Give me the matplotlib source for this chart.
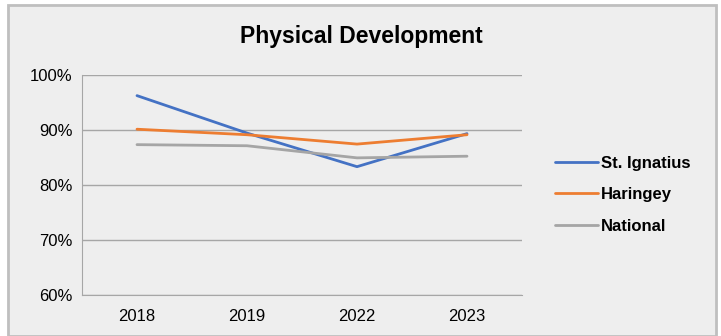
import matplotlib
matplotlib.use('Agg')
import matplotlib.pyplot as plt
from matplotlib.patches import Rectangle

# data
years = ['2018', '2019', '2022', '2023']
st_ignatius = [96.2, 89.4, 83.3, 89.3]
haringey = [90.1, 89.1, 87.4, 89.1]
national = [87.3, 87.1, 84.9, 85.2]

plt.rcParams['font.family'] = ['Liberation Sans Narrow', 'Liberation Sans', 'DejaVu Sans']

bg = '#eeeeee'
fig = plt.figure(figsize=(7.21, 3.36), dpi=100)
fig.patch.set_facecolor('white')

# chart frame, behind the axes
frame = Rectangle((8 / 721, 0), 708 / 721, 331 / 336, transform=fig.transFigure,
                  facecolor=bg, edgecolor='#bfbfbf', linewidth=2, zorder=-10)
fig.patches.append(frame)

ax = fig.add_axes([82 / 721, 1 - 295 / 336, 440 / 721, 220.3 / 336])
ax.set_facecolor(bg)

x = range(len(years))
ax.plot(x, st_ignatius, color='#4472c4', lw=2, label='St. Ignatius', solid_capstyle='round', zorder=3)
ax.plot(x, haringey, color='#ed7d31', lw=2, label='Haringey', solid_capstyle='round', zorder=3)
ax.plot(x, national, color='#a5a5a5', lw=2, label='National', solid_capstyle='round', zorder=3)

ax.set_xlim(-0.5, 3.5)
ax.set_ylim(60, 100)
ax.set_xticks(list(x))
ax.set_xticklabels(years)
ax.set_yticks([60, 70, 80, 90, 100])
ax.set_yticklabels(['60%', '70%', '80%', '90%', '100%'])
ax.tick_params(length=0, labelsize=12, pad=7)
ax.tick_params(axis='x', pad=10)
ax.grid(axis='y', color='#a6a6a6', lw=1)
ax.set_axisbelow(True)
for s in ['top', 'right']:
    ax.spines[s].set_visible(False)
ax.spines['left'].set_color('#a6a6a6')
ax.spines['bottom'].set_color('#a6a6a6')

fig.text(361 / 721, 1 - 36 / 336, 'Physical Development', ha='center', va='center',
         fontsize=16.5, fontweight='bold', family=['Liberation Sans', 'DejaVu Sans'])

leg = ax.legend(loc='center left', bbox_to_anchor=(1.075, 0.455), frameon=False,
                borderaxespad=0, borderpad=0,
                prop={'weight': 'bold', 'size': 12, 'family': ['Liberation Sans', 'DejaVu Sans']},
                handlelength=2.6, handletextpad=0.15, labelspacing=1.0)

fig.savefig('out.png', dpi=100, facecolor=fig.get_facecolor())
